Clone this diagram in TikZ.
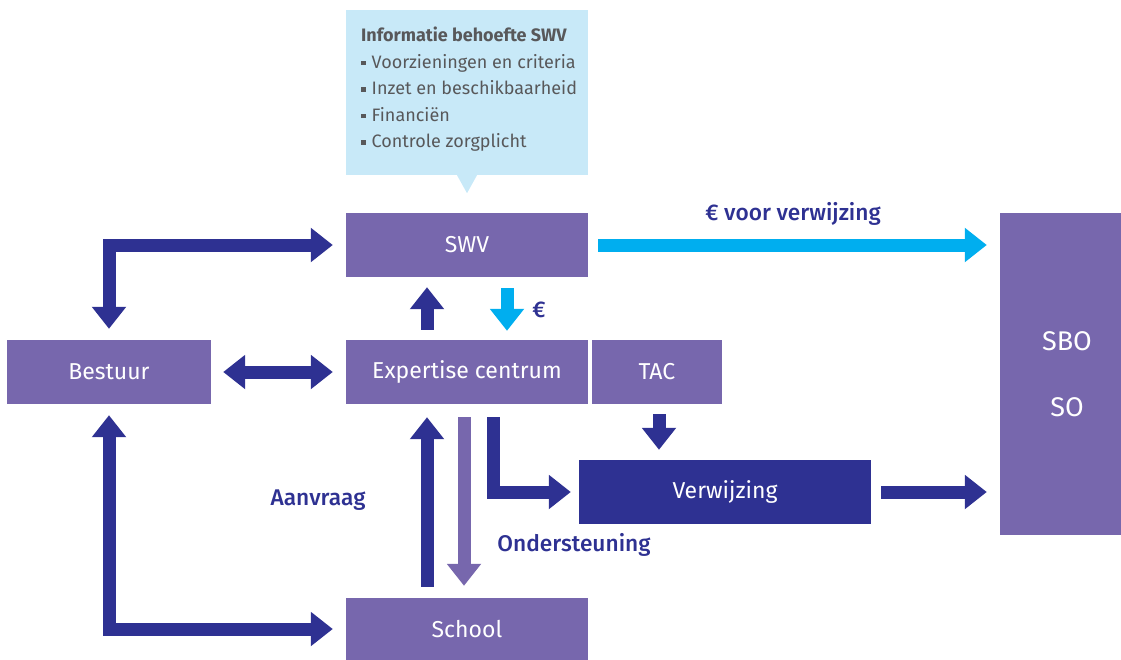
\documentclass[tikz,border=0pt]{standalone}
\usepackage{fontspec}
\setmainfont{Fira Sans}
\newfontfamily\labelfont{Fira Sans Medium}
\usepackage{tikz}
\usetikzlibrary{arrows.meta}
\usetikzlibrary{calc}

\definecolor{boxpurple}{HTML}{7767AD}
\definecolor{darkblue}{HTML}{2E3192}
\definecolor{lightblue}{HTML}{00AEEF}
\definecolor{infoblue}{HTML}{C8E9F8}
\definecolor{infogrey}{HTML}{58585A}

\tikzset{
    block/.style={fill=boxpurple, text=white, inner sep=0pt, font=\fontsize{23}{27}\selectfont},
    darkblock/.style={block, fill=darkblue},
    fat/.style={line width=13pt, color=darkblue, -{Triangle[length=22pt,width=33pt]}},
    fatboth/.style={fat, {Triangle[length=22pt,width=33pt]}-{Triangle[length=22pt,width=33pt]}},
    flowlabel/.style={text=darkblue, font=\fontsize{22.7}{26}\labelfont}
}
\newcommand{\infobullet}{\raisebox{0.18em}{\rule{4.5pt}{4.5pt}}\hspace{6pt}}

\begin{document}
\begin{tikzpicture}[x=1pt,y=-1pt]
            \useasboundingbox (0,0) rectangle (1121,659);

            % blokken
            \node[block, minimum width=242pt, minimum height=64pt] (swv) at (467,245) {SWV};
            \node[block, minimum width=204pt, minimum height=64pt] (bestuur) at (109,372) {Bestuur};
            \node[block, minimum width=242pt, minimum height=64pt] (expertise) at (467,372) {Expertise centrum};
            \node[block, minimum width=130pt, minimum height=64pt] (tac) at (657,372) {TAC};
            \node[darkblock, minimum width=292pt, minimum height=64pt] (verwijzing) at (725,492) {Verwijzing};
            \node[block, minimum width=242pt, minimum height=62pt] (school) at (467,629) {School};
            \node[block, minimum width=121pt, minimum height=322pt] (sbo) at (1060.5,374) {};
            \node[text=white, align=center, font=\fontsize{27}{30}\selectfont] (sbotext) at (1067,374) {SBO\\[36pt]SO};

            % informatie
            \node[fill=infoblue, minimum width=242pt, minimum height=165pt, inner sep=0pt] (info) at (467,92.5) {};
            \fill[infoblue] ([xshift=-10pt]info.south) -- ([xshift=10pt]info.south) -- ([yshift=-18pt]info.south) -- cycle;
            \node[anchor=north west, inner sep=0pt, align=left, text=infogrey, font=\fontsize{18}{26.5}\selectfont] (infotext) at (361,27)
                {\textbf{Informatie behoefte SWV}\\
                 \infobullet Voorzieningen en criteria\\
                 \infobullet Inzet en beschikbaarheid\\
                 \infobullet Financiën\\
                 \infobullet Controle zorgplicht};

            % pijlen
            \draw[fatboth, shorten <=11pt, shorten >=13pt] (bestuur.north) |- (swv.west);
            \draw[fatboth, shorten <=12pt, shorten >=13pt] (bestuur.east) -- (expertise.west);
            \draw[fatboth, shorten <=11pt, shorten >=13pt] (bestuur.south) |- (school.west);

            \draw[fat, shorten <=10pt, shorten >=10pt] ([xshift=-40pt]expertise.north) -- ([xshift=-40pt]swv.south);
            \draw[fat, color=lightblue, shorten <=11pt, shorten >=9pt] ([xshift=40pt]swv.south) -- ([xshift=40pt]expertise.north);
            \node[flowlabel] (euro) at (539,310) {€};

            \draw[fat, shorten <=11pt, shorten >=13pt] ([xshift=-40pt]school.north) -- ([xshift=-40pt]expertise.south);
            \draw[fat, color=boxpurple, shorten <=13pt, shorten >=12pt] ([xshift=-3pt]expertise.south) -- ([xshift=-3pt]school.north);
            \node[flowlabel] (aanvraag) at (318,500) {Aanvraag};
            \node[flowlabel] (ondersteuning) at (574,545) {Ondersteuning};

            \draw[fat, shorten <=13pt, shorten >=8pt] ([xshift=26pt]expertise.south) |- (verwijzing.west);
            \draw[fat, shorten <=10pt, shorten >=10pt] ([xshift=2pt]tac.south) -- ([xshift=-66pt]verwijzing.north);

            \draw[fat, shorten <=10pt, shorten >=13pt] (verwijzing.east) -- (verwijzing.east -| sbo.west);
            \draw[fat, color=lightblue, shorten <=10pt, shorten >=13pt] (swv.east) -- (swv.east -| sbo.west);
            \node[flowlabel] (voorverwijzing) at (793,214) {€ voor verwijzing};
        \end{tikzpicture}
\end{document}
